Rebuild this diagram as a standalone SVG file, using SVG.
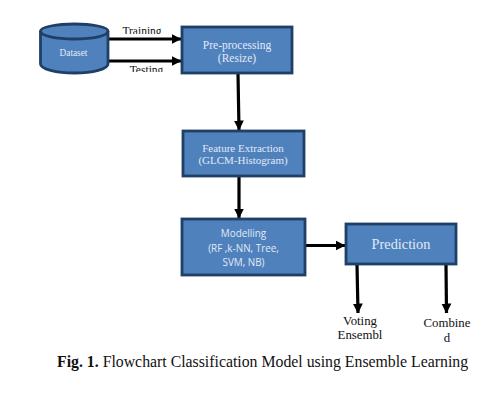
<svg xmlns="http://www.w3.org/2000/svg" width="504" height="406" viewBox="0 0 504 406">
<style>
.box{fill:#4f81bd;stroke:#1f3f66;stroke-width:2.8}
.w{fill:#e2eaf5;font-family:"Liberation Serif",serif;text-anchor:middle}
.c{fill:#e2eaf5;font-family:"Open Sans","Liberation Sans",sans-serif;font-size:9.9px;text-anchor:middle}
.k{fill:#111;font-family:"Liberation Serif",serif;text-anchor:middle;font-size:12.8px}
.t{fill:#111;font-family:"Liberation Serif",serif;text-anchor:middle;font-size:11.5px}
.l{stroke:#000;stroke-width:3.2;fill:none}
</style>
<defs>
<marker id="a" markerUnits="userSpaceOnUse" markerWidth="10" markerHeight="12" refX="9.5" refY="6" orient="auto"><path d="M0 1L10 6L0 11z" fill="#000"/></marker>
<clipPath id="c1"><rect x="110" y="20" width="70" height="14"/></clipPath>
<clipPath id="c2"><rect x="110" y="60" width="70" height="12"/></clipPath>
</defs>
<rect width="504" height="406" fill="#fff"/>
<g id="connectors">
<path class="l" marker-end="url(#a)" d="M108 39H181"/>
<path class="l" marker-end="url(#a)" d="M107 61H181"/>
<path class="l" marker-end="url(#a)" d="M238 74L239 130"/>
<path class="l" marker-end="url(#a)" d="M239 177V218"/>
<path class="l" marker-end="url(#a)" d="M306 245.500H345"/>
<path class="l" marker-end="url(#a)" d="M357 265L358 313"/>
<path class="l" marker-end="url(#a)" d="M446 265L446.500 313"/>
</g>
<g id="dataset">
<path class="box" d="M40.500 31V64C40.500 69 56 73 74.500 73S108 69 108 64V31C108 27 92 24 74.500 24S40.500 27 40.500 31Z"/>
<path fill="none" stroke="#1f3f66" stroke-width="2.800" d="M40.500 31C40.500 36 56 39 74.500 39S108 36 108 31"/>
<text class="w" x="73.500" y="56" font-size="9.300px">Dataset</text>
</g>
<g id="preprocessing">
<rect class="box" x="182" y="27" width="110" height="46"/>
<text class="w" x="237" y="49" font-size="11.500px">Pre-processing</text>
<text class="w" x="237" y="62" font-size="11.500px">(Resize)</text>
</g>
<g id="feature">
<rect class="box" x="183" y="131" width="121" height="45"/>
<text class="w" x="243" y="152" font-size="11px">Feature Extraction</text>
<text class="w" x="243" y="164" font-size="11px">(GLCM-Histogram)</text>
</g>
<g id="modelling">
<rect class="box" x="182" y="219" width="123" height="56"/>
<text class="c" x="243.500" y="237">Modelling</text>
<text class="c" x="243.500" y="252">(RF ,k-NN, Tree,</text>
<text class="c" x="243.500" y="266">SVM, NB)</text>
</g>
<g id="prediction">
<rect class="box" x="346" y="224" width="110" height="40"/>
<text class="w" x="401" y="249" font-size="14.300px">Prediction</text>
</g>
<g id="labels">
<g clip-path="url(#c1)"><text class="t" x="142" y="35">Training</text></g>
<g clip-path="url(#c2)"><text class="t" x="146.500" y="74">Testing</text></g>
<text class="k" x="360" y="325">Voting</text>
<text class="k" x="360" y="339">Ensembl</text>
<text class="k" x="447" y="327">Combine</text>
<text class="k" x="447" y="342">d</text>
</g>
<text x="57" y="367" font-family="'Liberation Serif',serif" font-size="15.800px" fill="#111"><tspan font-weight="bold">Fig. 1.</tspan> Flowchart Classification Model using Ensemble Learning</text>
</svg>
